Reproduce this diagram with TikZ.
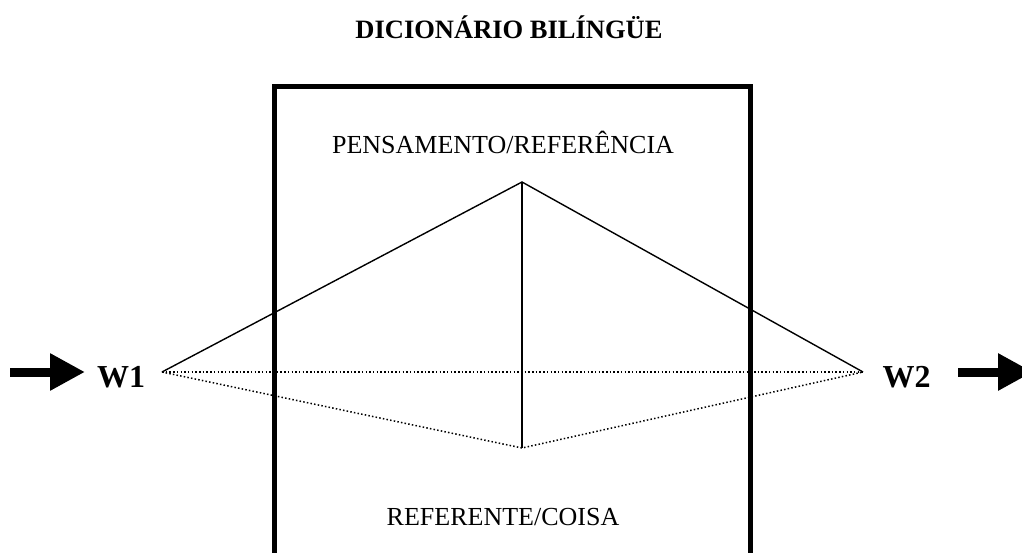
\documentclass[tikz,border=0pt]{standalone}
\usepackage{fontspec}
\setmainfont{Liberation Serif}
\usetikzlibrary{arrows.meta}
\begin{document}
\begin{tikzpicture}[x=1pt,y=-1pt,
  lbl/.style={inner sep=0pt,anchor=base,font=\fontsize{26}{30}\selectfont},
  wlbl/.style={inner sep=0pt,anchor=base,font=\fontsize{32}{36}\selectfont\bfseries},
  solidline/.style={line width=1.4pt},
  dotline/.style={line width=1.5pt,dash pattern=on 1.5pt off 2.2pt},
  bigarrow/.style={line width=9pt,-{Triangle[length=35pt,width=35pt]}}]
\useasboundingbox (0,0) rectangle (1022,553);
% title
\node[lbl,font=\fontsize{26.5}{30}\selectfont\bfseries] (title) at (509,39) {DICIONÁRIO BILÍNGÜE};
% box (bottom edge lies outside the picture)
\draw[line width=5pt] (274.5,570) -- (274.5,86.5) -- (750,86.5) -- (750,570);
% labels
\node[lbl] (pens) at (503,154) {PENSAMENTO/REFERÊNCIA};
\node[lbl] (refc) at (503,525) {REFERENTE/COISA};
\node[wlbl] (w1) at (121,387) {W1};
\node[wlbl] (w2) at (906.5,387) {W2};
% points
\coordinate (a) at (162,372);
\coordinate (b) at (863,372);
\coordinate (top) at (522,182);
\coordinate (bot) at (522,448);
% solid triangle
\draw[solidline] (a) -- (top) -- (b);
\draw[solidline] (top) -- (bot);
% dotted lines
\draw[dotline] (a) -- (b);
\draw[dotline] (a) -- (bot) -- (b);
% arrows
\coordinate (la) at (10,372);
\coordinate (lb) at (85,372);
\coordinate (ra) at (958,372);
\coordinate (rb) at (1033,372);
\draw[bigarrow] (la) -- (lb);
\draw[bigarrow] (ra) -- (rb);
\end{tikzpicture}
\end{document}
